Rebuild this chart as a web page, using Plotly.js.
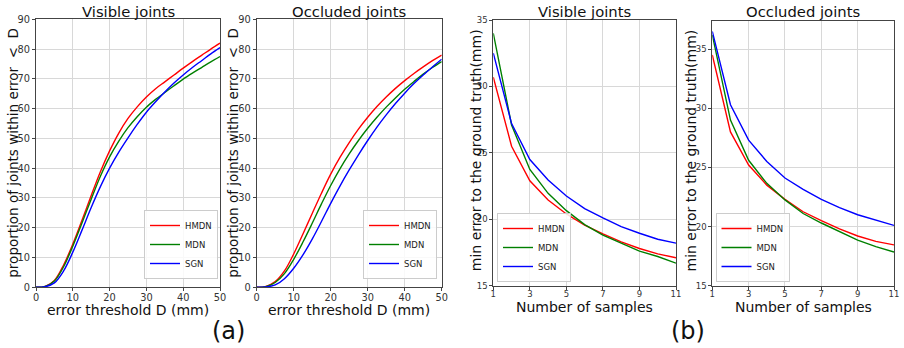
<!DOCTYPE html>
<html>
<head>
<meta charset="utf-8">
<script src="https://cdn.plot.ly/plotly-3.0.1.min.js"></script>
<style>html,body{margin:0;padding:0;background:#fff;}#chart{width:904px;height:348px;}</style>
</head>
<body>
<div id="chart"></div>
<script>
// ---- data ----
const seriesNames = ["HMDN", "MDN", "SGN"];
const seriesColors = ["#ff0000", "#008000", "#0000ff"];

const thresholdD = [0, 2.5, 5, 7.5, 10, 12.5, 15, 17.5, 20, 22.5, 25, 27.5, 30, 32.5, 35, 37.5, 40, 42.5, 45, 47.5, 50];
const visHMDN = [0, 0.3, 2.3, 7.5, 14.5, 22.5, 30.8, 38.8, 45.8, 51.8, 56.7, 60.6, 63.9, 66.7, 69.0, 71.3, 73.6, 75.8, 77.9, 80.0, 82.0];
const visMDN  = [0, 0.3, 2.1, 6.9, 13.8, 21.6, 29.6, 37.3, 43.8, 49.1, 53.6, 57.3, 60.5, 63.1, 65.4, 67.7, 69.9, 71.9, 73.8, 75.7, 77.5];
const visSGN  = [0, 0.2, 1.5, 5.5, 11.8, 19.2, 26.8, 33.8, 40.0, 45.4, 50.2, 54.7, 58.8, 62.3, 65.6, 68.6, 71.3, 73.8, 76.1, 78.4, 80.5];
const occHMDN = [0, 0.3, 1.9, 5.5, 11.2, 17.9, 24.8, 31.6, 38.0, 43.6, 48.6, 53.1, 57.1, 60.7, 63.9, 66.8, 69.4, 71.8, 74.0, 76.1, 78.0];
const occMDN  = [0, 0.2, 1.6, 4.6, 9.4, 15.2, 21.5, 28.0, 34.2, 39.8, 44.8, 49.3, 53.4, 57.1, 60.5, 63.6, 66.5, 69.1, 71.6, 73.8, 75.8];
const occSGN  = [0, 0.1, 0.8, 2.9, 6.4, 10.9, 16.2, 22.1, 28.2, 34.0, 39.4, 44.5, 49.3, 53.8, 57.9, 61.7, 65.2, 68.4, 71.3, 74.0, 76.6];

const numSamples = [1, 2, 3, 4, 5, 6, 7, 8, 9, 10, 11];
const visSampHMDN = [30.7, 25.5, 22.9, 21.45, 20.4, 19.55, 18.9, 18.3, 17.8, 17.4, 17.1];
const visSampMDN  = [34.0, 27.1, 23.75, 21.95, 20.65, 19.6, 18.8, 18.2, 17.6, 17.2, 16.7];
const visSampSGN  = [32.5, 27.2, 24.5, 22.95, 21.75, 20.8, 20.1, 19.45, 18.95, 18.5, 18.2];
const occSampHMDN = [34.5, 28.0, 25.2, 23.5, 22.3, 21.25, 20.5, 19.8, 19.2, 18.75, 18.45];
const occSampMDN  = [36.2, 29.0, 25.6, 23.65, 22.25, 21.1, 20.3, 19.55, 18.85, 18.3, 17.85];
const occSampSGN  = [36.5, 30.3, 27.3, 25.5, 24.1, 23.15, 22.3, 21.6, 21.0, 20.55, 20.1];

const thresholdTicks = [0, 10, 20, 30, 40, 50];
const proportionTicks = [0, 10, 20, 30, 40, 50, 60, 70, 80, 90];
const sampleTicks = [1, 3, 5, 7, 9, 11];
const errorTicks = [15, 20, 25, 30, 35];

const panelTitles = ["Visible joints", "Occluded joints", "Visible joints", "Occluded joints"];
const xTitles = ["error threshold D (mm)", "error threshold D (mm)", "Number of samples", "Number of samples"];
const yTitles = ["proportion of joints within error  &lt;  D", "proportion of joints within error  &lt;  D",
                 "min error to the ground truth(mm)", "min error to the ground truth(mm)"];
const groupLabels = ["(a)", "(b)"];

// ---- build ----
const W = 904, H = 348;
const FONT = "DejaVu Sans, sans-serif";
const panels = [
  {x: thresholdD, ys: [visHMDN, visMDN, visSGN], shape: "spline"},
  {x: thresholdD, ys: [occHMDN, occMDN, occSGN], shape: "spline"},
  {x: numSamples, ys: [visSampHMDN, visSampMDN, visSampSGN], shape: "linear"},
  {x: numSamples, ys: [occSampHMDN, occSampMDN, occSampSGN], shape: "linear"}
];
// pixel boxes of the plotting areas [left, right, top, bottom]
const boxes = [[36, 220, 19.3, 287.3], [256.7, 441.7, 19.3, 287.3], [493.3, 676, 20, 285.7], [712.3, 894, 20.7, 285.7]];
const legendBoxes = [[218, 279, "right"], [437, 279, "right"], [497, 282, "left"], [715.5, 282, "left"]];

const traces = [];
panels.forEach((p, i) => {
  const sfx = i === 0 ? "" : String(i + 1);
  p.ys.forEach((y, k) => {
    traces.push({
      x: p.x, y: y, type: "scatter", mode: "lines", name: seriesNames[k],
      line: {color: seriesColors[k], width: 1.4, shape: p.shape, smoothing: 1},
      xaxis: "x" + sfx, yaxis: "y" + sfx, legend: "legend" + sfx, showlegend: true
    });
  });
});

const layout = {
  width: W, height: H, margin: {l: 0, r: 0, t: 0, b: 0},
  paper_bgcolor: "#fff", plot_bgcolor: "#fff",
  font: {family: FONT, color: "#222"},
  annotations: []
};
const axisBase = {
  showline: true, mirror: true, linecolor: "#444", linewidth: 1,
  showgrid: true, gridcolor: "#d8d8d8", gridwidth: 1, zeroline: false,
  ticks: "outside", ticklen: 3, tickcolor: "#444", tickwidth: 1,
  fixedrange: true
};
boxes.forEach((b, i) => {
  const sfx = i === 0 ? "" : String(i + 1);
  const isA = i < 2;
  const tsize = isA ? 9.8 : 8.5;
  layout["xaxis" + sfx] = Object.assign({}, axisBase, {
    domain: [b[0] / W, b[1] / W], anchor: "y" + sfx,
    range: isA ? [0, 50] : [1, 11], tickvals: isA ? thresholdTicks : sampleTicks,
    tickfont: {family: FONT, color: "#333", size: tsize}, ticklabelstandoff: isA ? -2 : -3
  });
  layout["yaxis" + sfx] = Object.assign({}, axisBase, {
    domain: [1 - b[3] / H, 1 - b[2] / H], anchor: "x" + sfx,
    range: isA ? [0, 90] : (i === 2 ? [15, 35] : [15, 37.4]),
    tickvals: isA ? proportionTicks : errorTicks,
    tickfont: {family: FONT, color: "#333", size: tsize}
  });
  const cx = (b[0] + b[1]) / 2;
  layout.annotations.push({text: panelTitles[i], xref: "paper", yref: "paper", x: cx / W, y: 1 - 11.5 / H,
    xanchor: "center", yanchor: "middle", showarrow: false, font: {family: FONT, size: 14.8, color: "#111"}});
  layout.annotations.push({text: xTitles[i], xref: "paper", yref: "paper", x: cx / W, y: 1 - (isA ? 309.5 : 306.5) / H,
    xanchor: "center", yanchor: "middle", showarrow: false, font: {family: FONT, size: 14, color: "#111"}});
  const yx = [12.7, 232.7, 475.7, 690][i];
  layout.annotations.push({text: yTitles[i], xref: "paper", yref: "paper", x: yx / W, y: 1 - (isA ? 153 : 150.5) / H,
    xanchor: "center", yanchor: "middle", textangle: -90, showarrow: false,
    font: {family: FONT, size: isA ? 13.5 : 14, color: "#111"}});
  const lb = legendBoxes[i];
  layout["legend" + sfx] = {
    x: lb[0] / W, y: 1 - lb[1] / H, xanchor: lb[2], yanchor: "bottom",
    xref: "paper", yref: "paper",
    bgcolor: "rgba(255,255,255,0.85)", bordercolor: "#cccccc", borderwidth: 1,
    font: {family: FONT, size: 8.5, color: "#222"}, itemwidth: 30, tracegroupgap: 0
  };
});
layout.annotations.push({text: groupLabels[0], xref: "paper", yref: "paper", x: 229 / W, y: 1 - 331 / H,
  xanchor: "center", yanchor: "middle", showarrow: false, font: {family: FONT, size: 24, color: "#111"}});
layout.annotations.push({text: groupLabels[1], xref: "paper", yref: "paper", x: 688 / W, y: 1 - 331 / H,
  xanchor: "center", yanchor: "middle", showarrow: false, font: {family: FONT, size: 24, color: "#111"}});

Plotly.newPlot("chart", traces, layout, {displayModeBar: false, staticPlot: true});
</script>
</body>
</html>
